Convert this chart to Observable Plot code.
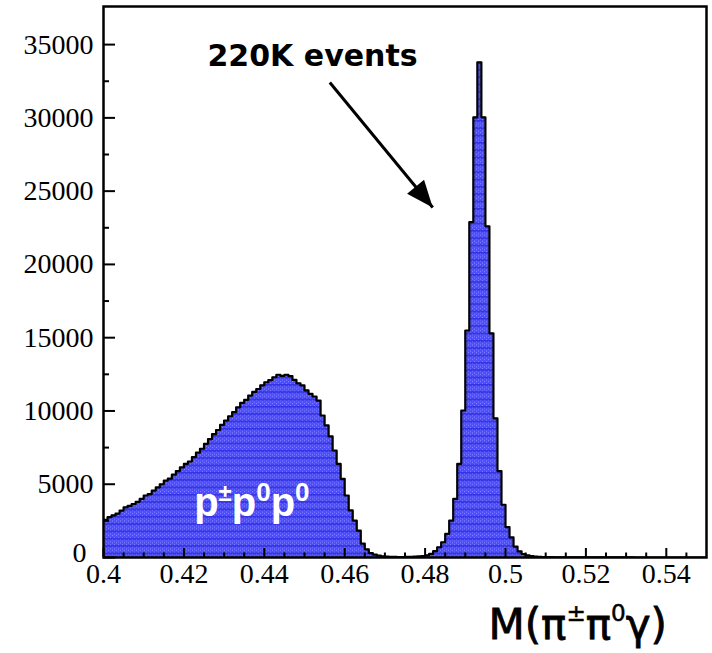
<!DOCTYPE html>
<html>
<head>
<meta charset="utf-8">
<script src="https://cdn.jsdelivr.net/npm/d3@7"></script>
<script src="https://cdn.jsdelivr.net/npm/@observablehq/plot@0.6"></script>
<style>
  body { margin: 0; background: #fff; }
  #chart { width: 712px; height: 592px; }
  #xlabel {
    width: 712px; height: 61px; box-sizing: border-box;
    padding-top: 12px; padding-right: 45px; text-align: right;
    font-family: "DejaVu Sans", "Noto Sans", sans-serif; font-size: 42px; line-height: 42px;
    color: #000; white-space: nowrap; -webkit-text-stroke: 0.8px #000;
  }
  #xlabel .sup { font-size: 0.55em; position: relative; top: -0.78em; -webkit-text-stroke: 0.5px #000; }
</style>
</head>
<body>
<div id="chart"></div>
<div id="xlabel">M(π<span class="sup">±</span>π<span class="sup">0</span>γ)</div>
<script>
// ---- data ----
const binStart = 0.4;
const binWidth = 0.001;
const counts = [
  2570, 2750, 2880, 3000, 3200,
  3430, 3520, 3650, 3800, 4000,
  4230, 4330, 4560, 4780, 5000,
  5250, 5380, 5650, 5900, 6150,
  6390, 6550, 6850, 7150, 7420,
  7760, 8080, 8420, 8700, 9050,
  9350, 9640, 9920, 10250, 10550,
  10760, 11050, 11300, 11500, 11750,
  11960, 12100, 12300, 12470, 12400,
  12470, 12380, 12120, 11890, 11740,
  11400, 11170, 10985, 10710, 9690,
  9010, 8260, 7300, 6390, 5370,
  4230, 3210, 2520, 1840, 950,
  560, 300, 200, 130, 80,
  60, 45, 40, 35, 35,
  40, 45, 55, 70, 90,
  150, 250, 430, 700, 1040,
  1610, 2520, 4000, 6390, 10030,
  15490, 22880, 30040, 33790, 30040,
  22600, 15300, 9500, 5900, 3600,
  2070, 1370, 740, 420, 240,
  140, 90, 60, 40, 30,
  25, 20, 18, 15, 12, 10, 9, 8, 7, 6,
  5, 5, 4, 4, 3, 3, 3, 2, 2, 2,
  2, 2, 1, 1, 1, 1, 1, 1, 1, 1,
  1, 1, 1, 0, 0, 0, 0, 0, 0, 0
];
const xDomain = [0.4, 0.55];
const yDomain = [0, 37600];
const xMajorTicks = [0.40, 0.42, 0.44, 0.46, 0.48, 0.50, 0.52, 0.54];
const xTickLabels = ["0.4", "0.42", "0.44", "0.46", "0.48", "0.5", "0.52", "0.54"];
const xMinorTicks = [0.405, 0.41, 0.415, 0.425, 0.43, 0.435, 0.445, 0.45, 0.455, 0.465, 0.47, 0.475,
                     0.485, 0.49, 0.495, 0.505, 0.51, 0.515, 0.525, 0.53, 0.535, 0.545];
const yMajorTicks = [0, 5000, 10000, 15000, 20000, 25000, 30000, 35000];
const yTickLabels = ["0", "5000", "10000", "15000", "20000", "25000", "30000", "35000"];
const yMinorTicks = [2500, 7500, 12500, 17500, 22500, 27500, 32500];

const noteText = ["220K events"];
const noteX = [0.4520];
const noteY = [34224];
const arrowX1 = [0.4563], arrowY1 = [32410];
const arrowX2 = [0.4819], arrowY2 = [23880];
const channelText = ["p±p0p0"];
const channelX = [0.4369];
const channelY = [3684];

// ---- layout ----
const W = 712, H = 592, ML = 103, MR = 6, MT = 6, MB = 35;
const pxX = (xDomain[1] - xDomain[0]) / (W - ML - MR); // data units per pixel (x)
const pxY = (yDomain[1] - yDomain[0]) / (H - MT - MB); // data units per pixel (y)

// ---- build ----
const hist = counts.map((c, i) => ({x: binStart + i * binWidth, y: c}));
hist.push({x: binStart + counts.length * binWidth, y: counts[counts.length - 1]});

const idx1 = [0];

const plot = Plot.plot({
  width: W,
  height: H,
  marginLeft: ML,
  marginRight: MR,
  marginTop: MT,
  marginBottom: MB,
  x: {domain: xDomain},
  y: {domain: yDomain},
  style: {
    fontFamily: "'Liberation Serif', 'Times New Roman', serif",
    fontSize: "28px",
    color: "black",
    background: "white",
    overflow: "visible"
  },
  marks: [
    Plot.areaY(hist, {x: "x", y: "y", curve: "step-after", fill: "url(#hatch)", clip: true}),
    Plot.line(hist, {x: "x", y: "y", curve: "step-after", stroke: "black", strokeWidth: 2.2, clip: true}),
    // inward ticks from the left and bottom frame edges
    Plot.ruleY(yMajorTicks, {y: d => d, x1: xDomain[0], x2: xDomain[0] + 12 * pxX, stroke: "black", strokeWidth: 2}),
    Plot.ruleY(yMinorTicks, {y: d => d, x1: xDomain[0], x2: xDomain[0] + 6 * pxX, stroke: "black", strokeWidth: 2}),
    Plot.ruleX(xMajorTicks, {x: d => d, y1: yDomain[0], y2: yDomain[0] + 9 * pxY, stroke: "black", strokeWidth: 2}),
    Plot.ruleX(xMinorTicks, {x: d => d, y1: yDomain[0], y2: yDomain[0] + 4.5 * pxY, stroke: "black", strokeWidth: 2}),
    // tick labels
    Plot.axisY({ticks: yMajorTicks, tickSize: 0, tickPadding: 10, label: null,
      tickFormat: d => yTickLabels[yMajorTicks.indexOf(d)]}),
    Plot.axisX({ticks: xMajorTicks, tickSize: 0, tickPadding: 6, label: null,
      tickFormat: d => xTickLabels[xMajorTicks.indexOf(d)]}),
    Plot.frame({stroke: "black", strokeWidth: 2.5}),
    // annotations
    Plot.link(idx1, {x1: i => arrowX1[i], y1: i => arrowY1[i], x2: i => arrowX2[i], y2: i => arrowY2[i],
      stroke: "black", strokeWidth: 3}),
    Plot.text(idx1, {x: i => noteX[i], y: i => noteY[i], text: i => noteText[i],
      fontFamily: "'DejaVu Sans', sans-serif", fontWeight: "bold", fontSize: 30, fill: "black", textAnchor: "middle"}),
    Plot.text(idx1, {x: i => channelX[i], y: i => channelY[i], text: i => channelText[i],
      fontFamily: "'Liberation Sans', Arial, sans-serif", fontWeight: "bold", fontSize: 40, fill: "white", textAnchor: "middle"})
  ]
});

const ns = "http://www.w3.org/2000/svg";
const defs = document.createElementNS(ns, "defs");
defs.innerHTML =
  '<pattern id="hatch" patternUnits="userSpaceOnUse" width="4" height="7.33">' +
    '<rect width="4" height="7.33" fill="#4c4cfa"/>' +
    '<rect x="0" y="0" width="1" height="1" fill="#8c8cff"/>' +
    '<rect x="2" y="2" width="1" height="1" fill="#8c8cff"/>' +
    '<rect x="0" y="4" width="1" height="1" fill="#8c8cff"/>' +
    '<rect x="2" y="6" width="1" height="1" fill="#8c8cff"/>' +
    '<rect x="0" y="3" width="4" height="1.2" fill="#2828dc"/>' +
  '</pattern>' +
  '<marker id="ahead" markerUnits="userSpaceOnUse" markerWidth="32" markerHeight="32" viewBox="-30 -16 32 32" refX="0" refY="0" orient="auto">' +
    '<path d="M0,0L-27,-11L-27,11Z" fill="black"/>' +
  '</marker>';
plot.insertBefore(defs, plot.firstChild);

plot.querySelectorAll('g[aria-label="link"] path, g[aria-label="link"] line').forEach(p => p.setAttribute("marker-end", "url(#ahead)"));

// superscripts in channel label
plot.querySelectorAll('g[aria-label="text"] text').forEach(t => {
  if (t.textContent === channelText[0]) {
    t.textContent = "";
    const parts = [["p", 0, 40], ["±", -15, 24], ["p", 15, 40], ["0", -15, 26], ["p", 15, 40], ["0", -15, 26]];
    parts.forEach(([s, dy, fs]) => {
      const ts = document.createElementNS(ns, "tspan");
      ts.textContent = s;
      if (dy) ts.setAttribute("dy", dy);
      ts.setAttribute("font-size", fs);
      t.appendChild(ts);
    });
  }
});

document.getElementById("chart").appendChild(plot);
// nudge the y-axis "0" label so it clears the "0.4" label
plot.querySelectorAll('g[aria-label="y-axis tick label"] text').forEach(t => {
  if (t.textContent === yTickLabels[0]) {
    const tr = t.getAttribute("transform") || "";
    t.setAttribute("transform", tr + " translate(-7,-4)");
  }
});
</script>
</body>
</html>
